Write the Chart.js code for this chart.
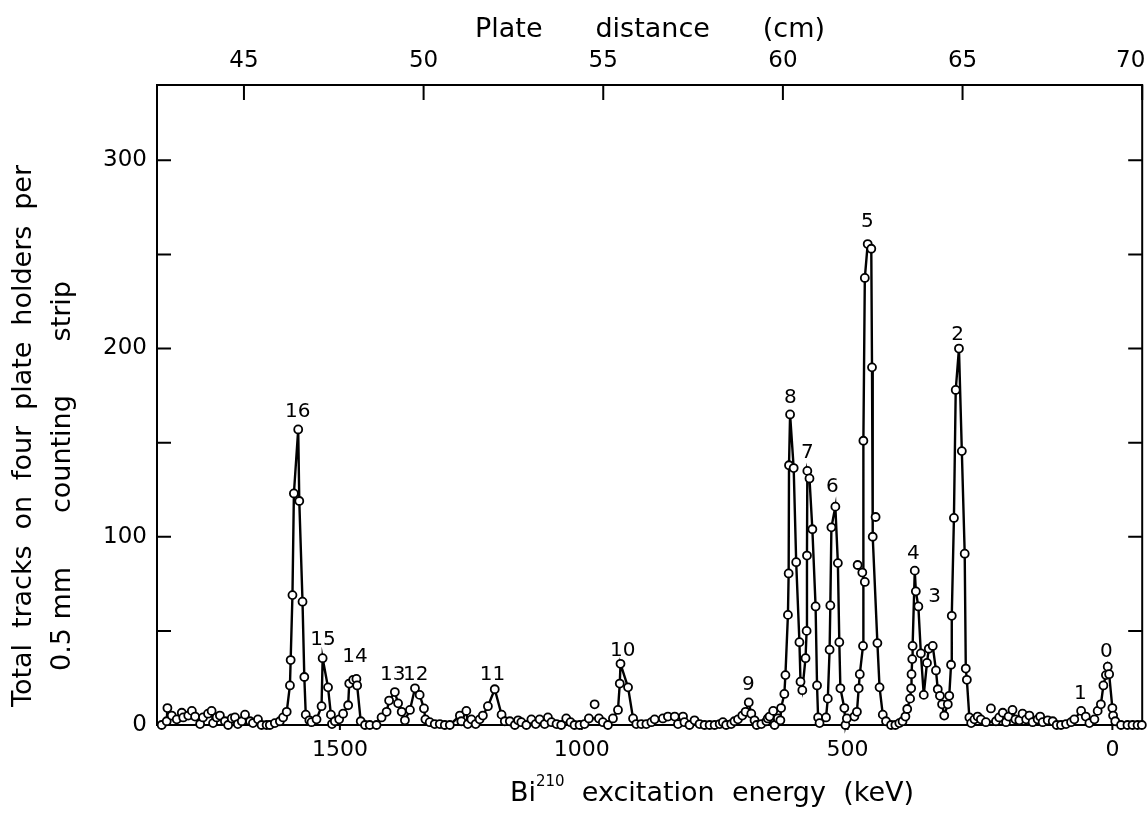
<!DOCTYPE html>
<html><head><meta charset="utf-8">
<script src="https://cdn.jsdelivr.net/npm/chart.js@4.4.0/dist/chart.umd.min.js"></script>
<style>html,body{margin:0;padding:0;background:#fff}</style>
</head><body>
<canvas id="c" width="1148" height="815"></canvas>
<script>
// ---- data (plate distance in cm, total tracks) ----
const plateCm = [42.71,42.85,42.87,42.99,43.13,43.27,43.31,43.45,43.55,43.64,43.78,43.86,44.00,44.10,44.14,44.24,44.33,44.47,44.56,44.66,44.75,44.83,44.94,45.03,45.17,45.25,45.39,45.49,45.63,45.72,45.86,46.00,46.09,46.19,46.28,46.30,46.35,46.39,46.51,46.54,46.63,46.68,46.72,46.82,46.88,47.02,47.16,47.19,47.34,47.42,47.45,47.53,47.65,47.76,47.90,47.93,48.04,48.13,48.15,48.25,48.37,48.50,48.69,48.83,48.97,49.04,49.20,49.29,49.39,49.48,49.62,49.76,49.89,50.01,50.05,50.17,50.31,50.45,50.59,50.73,51.01,51.05,51.19,51.23,51.33,51.45,51.56,51.65,51.79,51.98,52.17,52.26,52.40,52.54,52.63,52.72,52.86,53.00,53.12,53.23,53.37,53.46,53.56,53.70,53.83,53.97,54.09,54.20,54.34,54.48,54.60,54.88,54.99,55.13,55.27,55.41,55.46,55.48,55.69,55.83,55.92,56.06,56.20,56.34,56.43,56.66,56.80,56.99,57.08,57.22,57.26,57.40,57.54,57.68,57.82,57.96,58.10,58.24,58.33,58.42,58.56,58.65,58.75,58.87,58.96,59.05,59.12,59.21,59.27,59.40,59.54,59.58,59.63,59.73,59.77,59.86,59.93,59.95,60.04,60.07,60.14,60.16,60.17,60.20,60.30,60.37,60.46,60.49,60.54,60.63,60.66,60.67,60.68,60.74,60.82,60.91,60.95,60.98,61.02,61.20,61.25,61.30,61.32,61.35,61.46,61.53,61.57,61.60,61.71,61.74,61.78,61.99,62.06,62.11,62.14,62.23,62.24,62.28,62.36,62.46,62.48,62.50,62.63,62.69,62.78,62.87,63.01,63.13,63.24,63.33,63.41,63.46,63.54,63.57,63.58,63.60,63.61,63.67,63.70,63.77,63.84,63.92,64.01,64.06,64.17,64.26,64.31,64.37,64.43,64.49,64.59,64.63,64.68,64.70,64.76,64.81,64.90,64.98,65.06,65.09,65.12,65.19,65.24,65.33,65.42,65.51,65.65,65.93,66.02,66.12,66.21,66.28,66.39,66.47,66.58,66.67,66.77,66.86,66.95,67.09,67.16,67.23,67.37,67.51,67.62,67.74,67.88,68.02,68.11,68.30,68.43,68.53,68.67,68.76,68.85,68.92,68.99,69.04,69.08,69.17,69.19,69.25,69.41,69.59,69.73,69.87,69.99];
const tracks = [0,2,9,5,3,6.5,4,5,7.5,4.5,0.5,4,6,7.5,1,4,5,2,0,3.5,4,0.5,2,5.5,2,1,3,0,0,0,1,2,4,7,21,34.5,69,123,157,119,65.5,25.5,5.5,2.5,1.5,3,10,35.5,20,5.5,0.5,2,3,6,10.5,22,24,24.5,21,2,0,0,0,4,7,13,17.5,11.5,7,2.5,8,19.5,16,8.8,3,1.5,0.5,0.5,0,0,5,2,7.5,0.5,3,0.5,3,5,10,19,5.5,2,2,0,2.5,1.5,0,3,0.5,3,0.5,4,1.5,0.5,0,3.5,1.5,0,0,0.5,3.5,3.5,1.5,0,3.5,8,22,32.5,20,3.5,0.5,0.5,0.5,1.5,3,3.5,4.5,4.5,0.5,4.5,1.5,0,2.5,0.5,0,0,0,0.5,1.5,0,0.5,2,3,5,7,12,6,2.5,0,0.5,2,3.5,4.5,7.5,0,3.5,2.5,9,16.5,26.5,58.5,80.5,138,165,136.5,86.5,44,23,18.5,35.5,50,90,135,131,104,63,21,4,1,4,14,40,63.5,105,116,86,44,19.5,9,0,3.5,4.5,7,19.5,27,42,151,237.5,255.5,253,190,100,43.5,20,5.5,2,0,0,1,2,4.5,8.5,14,19.5,27,35,42,82,71,63,38,16,33,40.5,42,29,19,15.5,11,5,11,15.5,32,58,110,178,200,145.5,91,30,24,4,1,3,4.5,3,1.5,2,4,6.5,1.5,4.5,8,3,2.5,6,3,5,1.5,3,4.5,1.5,2.5,2,0,0,0.5,1.5,3,7.5,4.5,1,3,7.5,11,21,26.5,31,27,9,5,2,0,0,0,0,0];
// circles lying off the drawn curve
const offCurveCm = [54.76,62.08,62.21,62.28,62.58,65.79];
const offCurveTracks = [11,85,81,76,110.5,8.8];

// ---- axes ----
const plateTicks = [45,50,55,60,65,70];
const plateTickLabels = ['45','50','55','60','65','70\u2003'];
const energyTickLabels = ['1500','1000','500','0'];
const energyTickCm = [47.67,54.40,61.80,69.17];
const countMinorTicks = [50,100,150,200,250,300];
const countLabels = [0,100,200,300];

// ---- peak labels ----
const peakNames = ['16','15','14','13','12','11','10','9','8','7','6','5','4','3','2','1','0'];
const peakLabelCm = [46.50,47.20,48.09,49.14,49.78,51.92,55.54,59.04,60.21,60.68,61.38,62.35,63.63,64.22,64.86,68.28,69.00];
const peakLabelTracks = [166.6,45,36,26.5,26.5,26.5,39.3,21.2,174,144.8,126.3,267.4,90.7,67.9,207.4,16.4,38.7];

const FAM = '"DejaVu Sans", "Open Sans", sans-serif';
const f = (s) => s + 'px ' + FAM;

function drawSpread(ctx, words, cx, cy, width, angle) {
  ctx.save();
  ctx.translate(cx, cy);
  ctx.rotate(angle);
  ctx.fillStyle = '#000';
  ctx.textBaseline = 'middle';
  ctx.textAlign = 'left';
  const ws = words.map(w => w.reduce((s, r) => { ctx.font = r.f; return s + ctx.measureText(r.t).width; }, 0));
  const total = ws.reduce((a, b) => a + b, 0);
  const gap = words.length > 1 ? Math.max(7, (width - total) / (words.length - 1)) : 0;
  let x = -(total + gap * (words.length - 1)) / 2;
  words.forEach((w, i) => {
    let xx = x;
    w.forEach(r => { ctx.font = r.f; ctx.fillText(r.t, xx, r.dy || 0); xx += ctx.measureText(r.t).width; });
    x += ws[i] + gap;
  });
  ctx.restore();
}
const W = (s, size) => s.split(' ').map(t => [{t, f: f(size)}]);

const framePlugin = {
  id: 'frame',
  beforeDatasetsDraw(chart) {
    const {ctx, chartArea: a, scales} = chart;
    ctx.save();
    ctx.strokeStyle = '#000';
    ctx.lineWidth = 2;
    ctx.strokeRect(a.left, a.top, a.right - a.left, a.bottom - a.top);
    ctx.beginPath();
    countMinorTicks.forEach(v => {
      const py = scales.y.getPixelForValue(v);
      ctx.moveTo(a.left, py); ctx.lineTo(a.left + 14, py);
      ctx.moveTo(a.right, py); ctx.lineTo(a.right - 14, py);
    });
    plateTicks.forEach(v => {
      const px = scales.x2.getPixelForValue(v);
      ctx.moveTo(px, a.top); ctx.lineTo(px, a.top + 15);
    });
    energyTickCm.forEach(v => {
      const px = scales.x.getPixelForValue(v);
      ctx.moveTo(px, a.bottom); ctx.lineTo(px, a.bottom + 5);
    });
    ctx.stroke();
    ctx.restore();
  },
  afterDraw(chart) {
    const {ctx, scales} = chart;
    ctx.save();
    ctx.fillStyle = '#000';
    ctx.font = f(20);
    ctx.textAlign = 'center';
    ctx.textBaseline = 'middle';
    peakNames.forEach((n, i) => {
      ctx.fillText(n, scales.x.getPixelForValue(peakLabelCm[i]), scales.y.getPixelForValue(peakLabelTracks[i]));
    });
    ctx.restore();
    drawSpread(ctx, W('Plate distance (cm)', 27), 650, 30, 350, 0);
    drawSpread(ctx, [[{t: 'Bi', f: f(27)}, {t: '210', f: f(15), dy: -12}], ...W('excitation energy (keV)', 27)], 712, 794, 404, 0);
    drawSpread(ctx, W('Total tracks on four plate holders per', 27), 24, 436, 542, -Math.PI / 2);
    drawSpread(ctx, [[{t: '0.5 mm', f: f(27)}], ...W('counting strip', 27)], 63, 476, 390, -Math.PI / 2);
  }
};

const noPad = s => { s.paddingLeft = 0; s.paddingRight = 0; s.paddingTop = 0; s.paddingBottom = 0; };

new Chart(document.getElementById('c'), {
  type: 'line',
  data: {
    datasets: [
      {
        data: plateCm.map((x, i) => ({x, y: tracks[i]})),
        borderColor: '#000', borderWidth: 2.4,
        pointRadius: 4, pointBorderWidth: 1.8,
        pointBackgroundColor: '#fff', pointBorderColor: '#000',
        tension: 0, clip: false, xAxisID: 'x', yAxisID: 'y', order: 1
      },
      {
        data: offCurveCm.map((x, i) => ({x, y: offCurveTracks[i]})),
        showLine: false,
        pointRadius: 4, pointBorderWidth: 1.8,
        pointBackgroundColor: '#fff', pointBorderColor: '#000',
        clip: false, xAxisID: 'x', yAxisID: 'y', order: 0
      }
    ]
  },
  options: {
    responsive: false,
    devicePixelRatio: 1,
    animation: false,
    layout: {padding: 0},
    plugins: {legend: {display: false}, tooltip: {enabled: false}, title: {display: false}},
    scales: {
      x: {
        type: 'linear', position: 'bottom', min: 42.58, max: 70,
        afterBuildTicks: s => { s.ticks = energyTickCm.map(v => ({value: v})); },
        afterFit: s => { s.height = 90; noPad(s); },
        grid: {display: false, drawTicks: false}, border: {display: false},
        ticks: {autoSkip: false, maxRotation: 0, padding: 12, color: '#000', font: {family: FAM, size: 22},
          callback: (v, i) => energyTickLabels[i]}
      },
      x2: {
        type: 'linear', position: 'top', min: 42.58, max: 70,
        afterBuildTicks: s => { s.ticks = plateTicks.map(v => ({value: v})); },
        afterFit: s => { s.height = 85; noPad(s); },
        grid: {display: false, drawTicks: false}, border: {display: false},
        ticks: {autoSkip: false, maxRotation: 0, padding: 10, color: '#000', font: {family: FAM, size: 23},
          callback: (v, i) => plateTickLabels[i]}
      },
      y: {
        type: 'linear', position: 'left', min: 0, max: 340,
        afterBuildTicks: s => { s.ticks = countLabels.map(v => ({value: v})); },
        afterFit: s => { s.width = 157; noPad(s); },
        grid: {display: false, drawTicks: false}, border: {display: false},
        ticks: {padding: 10, color: '#000', font: {family: FAM, size: 23}, callback: v => String(v)}
      },
      y2: {
        type: 'linear', position: 'right', min: 0, max: 340,
        afterFit: s => { s.width = 5; noPad(s); },
        grid: {display: false, drawTicks: false}, border: {display: false},
        ticks: {display: false}
      }
    }
  },
  plugins: [framePlugin]
});
</script>
</body></html>
